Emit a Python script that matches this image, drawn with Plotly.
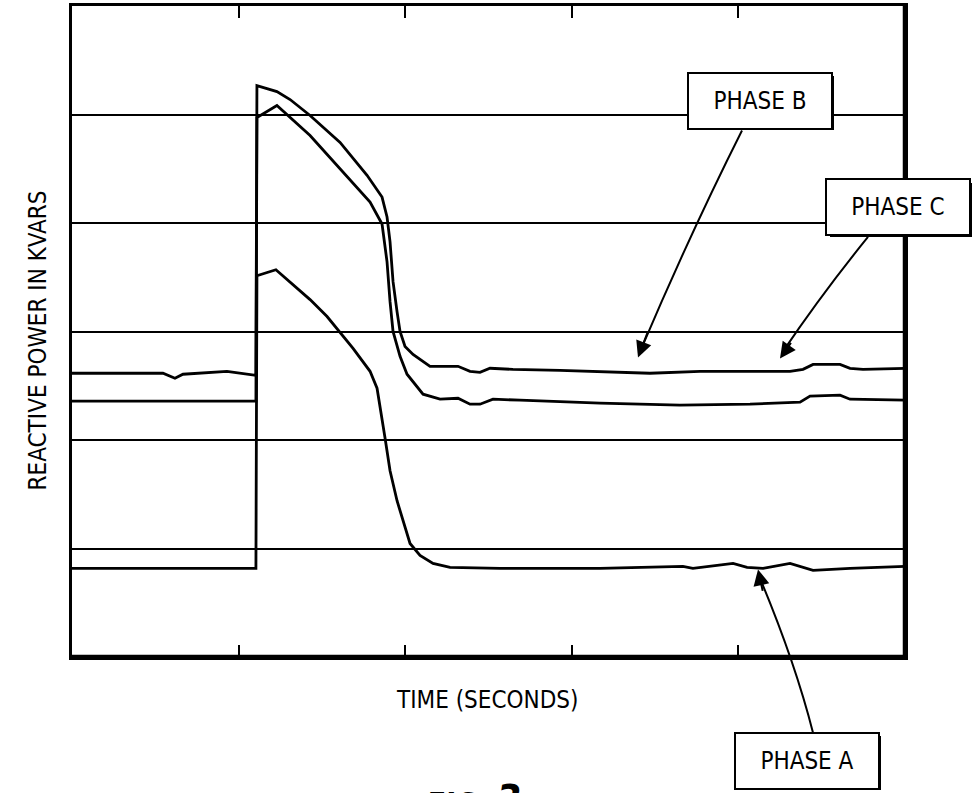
import plotly.graph_objects as go

# ---- data (time in arbitrary units, reactive power in grid units) ----
phase_a_t = [0.0, 1.104, 1.110, 1.224, 1.429, 1.531, 1.687, 1.789, 1.831, 1.855, 1.879,
             1.909, 1.951, 2.029, 2.089, 2.167, 2.269, 2.569, 3.169, 3.667, 3.727,
             3.968, 4.052, 4.148, 4.310, 4.448, 4.670, 5.0]
phase_a_q = [0.817, 0.817, 3.514, 3.569, 3.294, 3.138, 2.844, 2.633, 2.477, 2.266, 2.018,
             1.716, 1.440, 1.046, 0.936, 0.862, 0.826, 0.817, 0.817, 0.835, 0.817,
             0.862, 0.826, 0.817, 0.862, 0.798, 0.817, 0.835]

phase_b_t = [0.0, 1.104, 1.110, 1.230, 1.429, 1.627, 1.789, 1.861, 1.891, 1.909, 1.927,
             1.969, 2.011, 2.107, 2.209, 2.317, 2.389, 2.449, 2.527, 2.689, 3.169,
             3.649, 4.070, 4.370, 4.430, 4.610, 4.670, 5.0]
phase_b_q = [2.358, 2.358, 4.972, 5.083, 4.807, 4.468, 4.193, 3.991, 3.642, 3.275, 3.000,
             2.771, 2.606, 2.422, 2.376, 2.385, 2.330, 2.330, 2.376, 2.367, 2.339,
             2.321, 2.330, 2.349, 2.404, 2.413, 2.376, 2.367]

phase_c_t = [0.0, 0.546, 0.618, 0.666, 0.930, 1.086, 1.104, 1.110, 1.230, 1.309, 1.429,
             1.609, 1.771, 1.861, 1.891, 1.909, 1.927, 1.951, 1.969, 1.999, 2.047,
             2.149, 2.251, 2.317, 2.389, 2.449, 2.509, 2.647, 2.929, 3.169, 3.469,
             3.770, 4.310, 4.388, 4.448, 4.610, 4.670, 4.748, 5.0]
phase_c_q = [2.615, 2.615, 2.569, 2.606, 2.633, 2.596, 2.596, 5.266, 5.211, 5.138, 4.991,
             4.743, 4.440, 4.239, 4.055, 3.826, 3.459, 3.183, 3.000, 2.862, 2.789,
             2.679, 2.679, 2.679, 2.633, 2.624, 2.661, 2.651, 2.642, 2.633, 2.615,
             2.633, 2.633, 2.651, 2.697, 2.697, 2.661, 2.651, 2.661]

x_ticks = [1, 2, 3, 4]
y_grid = [1, 2, 3, 4, 5]

FONT = "Liberation Sans Narrow, DejaVu Sans Condensed, DejaVu Sans, sans-serif"

W, H = 973, 793
L, R, T, B = 72, 68, 3, 136
PW, PH = W - L - R, H - T - B


def px(xp):
    return (xp - L) / PW


def py(yp):
    return (H - B - yp) / PH


fig = go.Figure()
for name, t, q in [("PHASE A", phase_a_t, phase_a_q),
                   ("PHASE B", phase_b_t, phase_b_q),
                   ("PHASE C", phase_c_t, phase_c_q)]:
    fig.add_trace(go.Scatter(x=t, y=q, mode="lines", name=name,
                             line=dict(color="black", width=2.8),
                             showlegend=False, hoverinfo="skip"))

shapes = []
# heavier right and bottom frame edges
shapes.append(dict(type="line", xref="paper", yref="paper", x0=1, x1=1, y0=-0.003, y1=1.003,
                   line=dict(color="black", width=4.5)))
shapes.append(dict(type="line", xref="paper", yref="paper", x0=0, x1=1, y0=0, y1=0,
                   line=dict(color="black", width=4.5)))


def qpath(p0, c, p1):
    return dict(type="path", xref="paper", yref="paper",
                path=f"M {px(p0[0])},{py(p0[1])} Q {px(c[0])},{py(c[1])} {px(p1[0])},{py(p1[1])}",
                line=dict(color="black", width=2))


shapes.append(qpath((742, 128), (690, 232), (641, 348)))
shapes.append(qpath((868, 235), (822, 292), (783, 350)))
shapes.append(qpath((813, 733), (795, 662), (760, 578)))

annotations = []


def label(text, cx, cy, w, h):
    # shadow
    annotations.append(dict(x=px(cx), y=py(cy), xref="paper", yref="paper", text=" ",
                            showarrow=False, width=w, height=h, bgcolor="black",
                            borderwidth=0, borderpad=0, xshift=2.5, yshift=-2.5,
                            xanchor="center", yanchor="middle"))
    annotations.append(dict(x=px(cx), y=py(cy), xref="paper", yref="paper", text=text,
                            showarrow=False, width=w, height=h, bgcolor="white",
                            bordercolor="black", borderwidth=2, borderpad=0,
                            xanchor="center", yanchor="middle",
                            font=dict(family=FONT, size=24, color="black")))


def head(tail, tip):
    annotations.append(dict(x=px(tip[0]), y=py(tip[1]), xref="paper", yref="paper",
                            ax=tail[0] - tip[0], ay=tail[1] - tip[1],
                            axref="pixel", ayref="pixel",
                            text="", showarrow=True, arrowhead=2, arrowsize=1.6,
                            arrowwidth=2, arrowcolor="black"))


label("PHASE B", 760, 98, 142, 54)
label("PHASE C", 898, 205, 142, 54)
label("PHASE A", 807, 761, 142, 54)
head((648, 330), (638, 356))
head((792, 340), (780, 357))
head((763, 592), (758, 569))

annotations.append(dict(x=px(22), y=py(339), xref="paper", yref="paper",
                        text="REACTIVE POWER IN KVARS", textangle=-90, showarrow=False,
                        font=dict(family=FONT, size=24, color="black")))
annotations.append(dict(x=px(487), y=py(716), xref="paper", yref="paper",
                        text="TIME (SECONDS)", showarrow=False,
                        font=dict(family=FONT, size=24, color="black")))
# figure caption, partly below the page edge as in the reference
annotations.append(dict(x=px(473), y=py(776), xref="paper", yref="paper",
                        xanchor="center", yanchor="top",
                        text="<i><b>FIG. <span style='font-size:40px'>3</span></b></i>",
                        showarrow=False,
                        font=dict(family=FONT, size=30, color="black")))

fig.update_layout(
    width=W, height=H,
    margin=dict(l=L, r=R, t=T, b=B),
    paper_bgcolor="white", plot_bgcolor="white",
    shapes=shapes, annotations=annotations,
    xaxis=dict(range=[0, 5], tickvals=x_ticks, showticklabels=False,
               ticks="inside", ticklen=12, tickwidth=2, tickcolor="black",
               showline=True, linecolor="black", linewidth=2.5, mirror="ticks",
               showgrid=False, zeroline=False, fixedrange=True),
    yaxis=dict(range=[0, 6], tickvals=y_grid, showticklabels=False, ticks="",
               showline=True, linecolor="black", linewidth=2.5, mirror=True,
               showgrid=True, gridcolor="black", gridwidth=2, zeroline=False,
               fixedrange=True),
)

fig.write_html("out.html")
